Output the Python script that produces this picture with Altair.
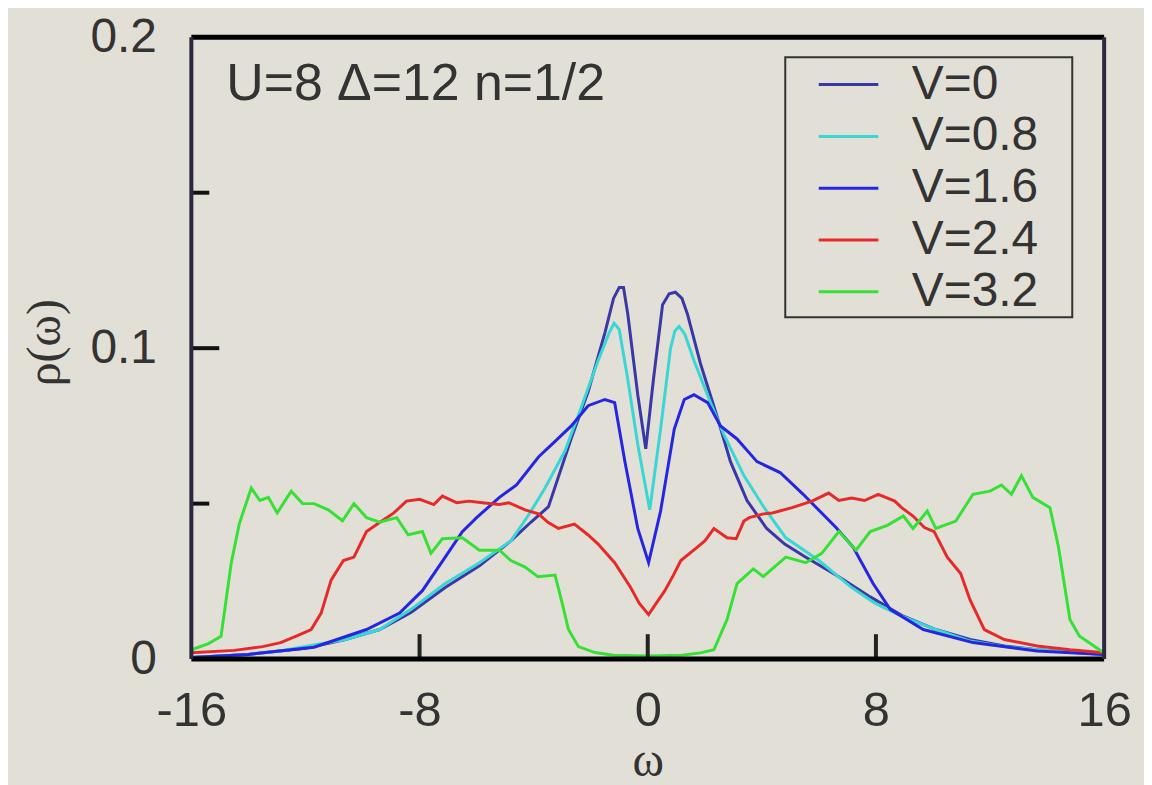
import altair as alt
import pandas as pd

# ---- data ----
series_names = ["V=0", "V=0.8", "V=1.6", "V=2.4", "V=3.2"]
series_colors = ["#3a38a6", "#3ad6d6", "#2626e0", "#e62a2a", "#36e036"]

v0_omega = [-16, -14, -12.9, -12, -10.6, -9.4, -8.3, -7.1, -5.9, -4.8, -4.1, -3.48, -2.68, -2.09,
            -1.5, -1.2, -1.0, -0.85, -0.7, -0.35, -0.07, 0.2, 0.52, 0.75, 0.97, 1.2, 1.39, 1.85,
            2.43, 2.9, 3.48, 4.17, 4.8, 5.5, 6.7, 7.8, 8.96, 10.1, 11.3, 12.5, 13.65, 16]
v0_rho = [0.0005, 0.0015, 0.0026, 0.0035, 0.0063, 0.0095, 0.015, 0.023, 0.030, 0.038, 0.044, 0.049,
          0.071, 0.086, 0.105, 0.116, 0.1195, 0.1195, 0.111, 0.085, 0.0676, 0.090, 0.114, 0.1175,
          0.118, 0.116, 0.111, 0.095, 0.078, 0.0635, 0.051, 0.042, 0.037, 0.033, 0.0265, 0.020,
          0.0138, 0.0095, 0.0063, 0.0042, 0.003, 0.0015]

v08_omega = [-16, -14, -12.9, -10.6, -9.4, -8.3, -7.1, -5.9, -4.8, -4.2, -3.6, -2.9, -2.33, -1.74,
             -1.35, -1.18, -1.0, -0.7, -0.35, 0.07, 0.45, 0.8, 0.95, 1.1, 1.3, 1.62, 2.2, 2.68, 3.37,
             4.06, 4.84, 6.0, 7.15, 7.96, 8.9, 10.1, 11.3, 12.5, 13.65, 16]
v08_rho = [0.0005, 0.0015, 0.0026, 0.0063, 0.0095, 0.016, 0.0243, 0.031, 0.038, 0.046, 0.055, 0.067,
           0.081, 0.096, 0.105, 0.108, 0.106, 0.090, 0.069, 0.048, 0.074, 0.100, 0.1055, 0.107,
           0.1045, 0.096, 0.0825, 0.072, 0.059, 0.049, 0.039, 0.0317, 0.023, 0.018, 0.0138, 0.0095,
           0.0058, 0.004, 0.003, 0.0015]

v16_omega = [-16, -14, -11.7, -9.86, -8.7, -7.9, -7.1, -6.5, -6.0, -5.2, -4.6, -3.83, -3.25, -2.68,
             -2.09, -1.5, -1.16, -0.8, -0.35, 0.03, 0.45, 0.93, 1.28, 1.62, 2.1, 2.55, 3.13, 3.83,
             4.64, 5.45, 6.6, 7.2, 7.9, 8.5, 9.66, 11.4, 13.65, 16]
v16_rho = [0.0005, 0.0015, 0.0038, 0.0095, 0.0148, 0.022, 0.0328, 0.041, 0.0455, 0.052, 0.056, 0.065,
           0.070, 0.075, 0.0815, 0.0835, 0.0825, 0.0635, 0.042, 0.031, 0.0476, 0.074, 0.0835, 0.085,
           0.0825, 0.075, 0.0708, 0.0635, 0.060, 0.053, 0.0423, 0.036, 0.0243, 0.016, 0.0095, 0.0053,
           0.0026, 0.0015]

v24_omega = [-16, -14.5, -13.5, -12.87, -12.3, -11.8, -11.45, -11.1, -10.67, -10.3, -9.86, -9.4, -8.9,
             -8.46, -7.99, -7.5, -7.2, -6.7, -6.26, -5.8, -5.2, -4.87, -4.3, -3.83, -3.5, -3.13, -2.57,
             -2.1, -1.74, -1.4, -1.16, -0.6, -0.3, 0.03, 0.3, 0.6, 0.9, 1.16, 1.74, 2.0, 2.32, 2.78,
             3.1, 3.37, 3.56, 4.06, 4.37, 5.06, 5.76, 6.34, 6.7, 7.15, 7.6, 8.08, 8.66, 8.9, 9.3, 9.7,
             10.04, 10.5, 10.97, 11.3, 11.8, 12.5, 13.65, 14.8, 16]
v24_rho = [0.002, 0.0028, 0.004, 0.0053, 0.0075, 0.0095, 0.0148, 0.0254, 0.0317, 0.0328, 0.041, 0.0439,
           0.047, 0.0508, 0.0514, 0.0497, 0.0524, 0.0503, 0.0508, 0.0503, 0.0497, 0.0503, 0.048,
           0.0467, 0.044, 0.042, 0.0434, 0.040, 0.037, 0.0335, 0.031, 0.023, 0.018, 0.0143, 0.018,
           0.022, 0.027, 0.0317, 0.036, 0.038, 0.042, 0.039, 0.0387, 0.0444, 0.0455, 0.0467, 0.047,
           0.0487, 0.0508, 0.0534, 0.051, 0.0518, 0.051, 0.053, 0.0508, 0.0487, 0.046, 0.0423, 0.041,
           0.0328, 0.0275, 0.019, 0.0095, 0.0063, 0.0042, 0.003, 0.002]

v32_omega = [-16, -15.4, -14.96, -14.6, -14.32, -13.9, -13.6, -13.3, -12.99, -12.5, -12.1, -11.7, -11.2,
             -10.7, -10.3, -9.86, -9.4, -8.8, -8.4, -7.9, -7.6, -7.2, -6.5, -5.9, -5.2, -4.8, -4.3,
             -3.85, -3.25, -3.0, -2.78, -2.43, -1.85, -1.2, 0, 1.2, 1.85, 2.32, 2.78, 3.13, 3.7, 4.05,
             4.84, 5.54, 6.1, 6.7, 7.3, 7.8, 8.4, 8.96, 9.3, 9.8, 10.1, 10.8, 11.4, 12.0, 12.4, 12.75,
             13.1, 13.5, 14.1, 14.4, 14.8, 15.13, 15.9, 16]
v32_rho = [0.003, 0.005, 0.0073, 0.031, 0.0435, 0.055, 0.051, 0.052, 0.047, 0.054, 0.050, 0.050, 0.048,
           0.0445, 0.050, 0.0455, 0.044, 0.0455, 0.040, 0.041, 0.034, 0.0387, 0.039, 0.035, 0.035,
           0.0317, 0.0296, 0.0265, 0.027, 0.018, 0.0095, 0.004, 0.0021, 0.0012, 0.001, 0.0012, 0.002,
           0.003, 0.0127, 0.0243, 0.029, 0.0265, 0.0328, 0.031, 0.034, 0.041, 0.035, 0.041, 0.043,
           0.046, 0.042, 0.0476, 0.042, 0.0444, 0.053, 0.054, 0.056, 0.053, 0.059, 0.052, 0.0487,
           0.036, 0.0127, 0.0074, 0.0026, 0.002]

x_tick_values = [-16, -8, 0, 8, 16]
y_tick_values = [0, 0.1, 0.2]
x_inner_ticks = [-8, 0, 8]
y_major_inner = [0.1]
y_minor_inner = [0.05, 0.15]
annotation = "U=8 \u0394=12 n=1/2"

# ---- build table ----
rows = []
for name, om, rh in zip(series_names,
                        [v0_omega, v08_omega, v16_omega, v24_omega, v32_omega],
                        [v0_rho, v08_rho, v16_rho, v24_rho, v32_rho]):
    for o, r in zip(om, rh):
        rows.append({"series": name, "omega": o, "rho": r})
df = pd.DataFrame(rows)

W, H = 916, 624
FONT = "Liberation Sans"
SERIF = "Liberation Serif"
TXT = "#333333"

xscale = alt.Scale(domain=[-16, 16], nice=False, zero=False)
yscale = alt.Scale(domain=[0, 0.2], nice=False)

lines = alt.Chart(df).mark_line(strokeWidth=3, clip=True).encode(
    x=alt.X("omega:Q", scale=xscale,
            axis=alt.Axis(values=x_tick_values, labelExpr="toString(datum.value)",
                          labelFontSize=49, labelFont=FONT, labelColor=TXT, labelPadding=28,
                          domain=False, ticks=False, grid=False, labelFlush=False,
                          title="\u03c9", titleFont=SERIF, titleFontSize=48, titleFontWeight="normal",
                          titleColor=TXT, titleY=117, titleBaseline="alphabetic")),
    y=alt.Y("rho:Q", scale=yscale,
            axis=alt.Axis(values=y_tick_values, labelExpr="toString(datum.value)",
                          labelFontSize=48, labelFont=FONT, labelColor=TXT, labelPadding=35,
                          domain=False, ticks=False, grid=False, labelFlush=False,
                          title="\u03c1(\u03c9)", titleFont=SERIF, titleFontSize=48,
                          titleFontWeight="normal", titleColor=TXT, titleX=-146, titleY=306,
                          titleAngle=270, titleAlign="center", titleBaseline="middle")),
    color=alt.Color("series:N", sort=series_names,
                    scale=alt.Scale(domain=series_names, range=series_colors),
                    legend=alt.Legend(orient="none", legendX=632, legendY=20, title=None,
                                      symbolType="M-1.15,0H1.15", symbolSize=2704,
                                      symbolStrokeWidth=3, labelFontSize=48, labelFont=FONT,
                                      labelColor=TXT, labelOffset=36, rowPadding=0, padding=0)),
    detail="series:N",
)

# frame
frame_tb = alt.Chart(pd.DataFrame({"edge": ["top", "bottom"], "py": [0, H]})).mark_rule(
    strokeWidth=5, color="#000000").encode(
    x=alt.value(0), x2=alt.value(W), y=alt.Y("py:Q", scale=None))
frame_lr = alt.Chart(pd.DataFrame({"edge": ["left", "right"], "px": [0, W]})).mark_rule(
    strokeWidth=4, color="#2b2840").encode(
    x=alt.X("px:Q", scale=None), y=alt.value(0), y2=alt.value(H))

xt = alt.Chart(pd.DataFrame({"omega": x_inner_ticks})).mark_rule(strokeWidth=4, color="#222222").encode(
    x=alt.X("omega:Q", scale=xscale), y=alt.value(H), y2=alt.value(H - 25))
yt_major = alt.Chart(pd.DataFrame({"rho": y_major_inner})).mark_rule(strokeWidth=4, color="#111111").encode(
    y=alt.Y("rho:Q", scale=yscale), x=alt.value(0), x2=alt.value(28))
yt_minor = alt.Chart(pd.DataFrame({"rho": y_minor_inner})).mark_rule(strokeWidth=4, color="#111111").encode(
    y=alt.Y("rho:Q", scale=yscale), x=alt.value(0), x2=alt.value(18))

legend_box = alt.Chart(pd.DataFrame({"k": [0]})).mark_rect(
    fill=None, stroke="#333333", strokeWidth=2).encode(
    x=alt.value(596), x2=alt.value(884), y=alt.value(20), y2=alt.value(281))

note = alt.Chart(pd.DataFrame({"t": [annotation]})).mark_text(
    align="left", baseline="alphabetic", fontSize=52, font=FONT, color=TXT).encode(
    x=alt.value(35), y=alt.value(63), text="t:N")

chart = alt.layer(lines, xt, yt_major, yt_minor, frame_tb, frame_lr, legend_box, note).resolve_scale(
    x="shared", y="shared").properties(
    width=W, height=H,
    autosize=alt.AutoSizeParams(type="none"),
    padding={"left": 184, "top": 28, "right": 40, "bottom": 125},
    background="#e2e0d6",
).configure_view(stroke=None)

chart.save("out.html", embed_options={"renderer": "svg", "actions": False})
